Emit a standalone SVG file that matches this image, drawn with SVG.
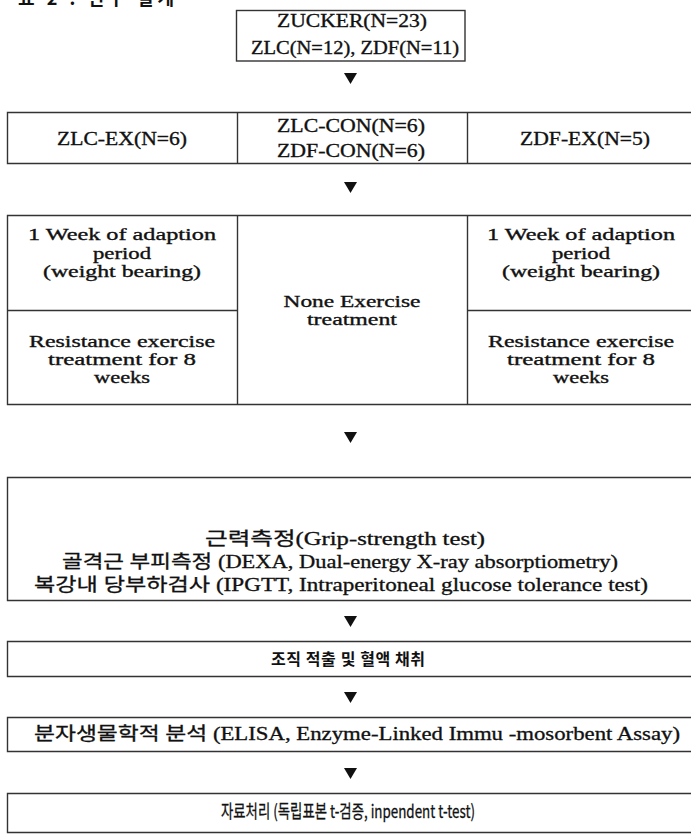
<svg xmlns="http://www.w3.org/2000/svg" width="691" height="840" viewBox="0 0 691 840">
<style>
.bx{fill:#fff;stroke:#333;stroke-width:1.4}
.ln{stroke:#333;stroke-width:1.4;fill:none}
.t{font-family:"Liberation Serif","Noto Sans CJK KR",serif;font-size:19px;fill:#111;stroke:#111;stroke-width:0.35;text-anchor:middle}
.s{font-family:"Liberation Serif",serif;font-size:17px;fill:#111;stroke:#111;stroke-width:0.35;text-anchor:middle}
.k{font-family:"Liberation Serif","Noto Sans CJK KR",serif;font-size:18px;fill:#111;stroke:#111;stroke-width:0.3;text-anchor:middle}
.kb{font-family:"Noto Sans CJK KR",sans-serif;font-size:16px;font-weight:bold;fill:#111;text-anchor:middle}
.ks{font-family:"Noto Sans CJK KR","Liberation Sans",sans-serif;font-size:18px;fill:#111;stroke:#111;stroke-width:0.3;text-anchor:middle}
.arr{fill:#111}
</style>
<text x="18" y="5" font-family="Noto Sans CJK KR,sans-serif" font-size="18" font-weight="bold" fill="#111" textLength="156" lengthAdjust="spacing">표 2 . 연구 설계</text>
<g id="connectors">
<polygon class="arr" points="344,73 357,73 350.5,84"/>
<polygon class="arr" points="344,182 357,182 350.5,193"/>
<polygon class="arr" points="344,432 357,432 350.5,443"/>
<polygon class="arr" points="344,616 357,616 350.5,627"/>
<polygon class="arr" points="344,692 357,692 350.5,703"/>
<polygon class="arr" points="344,768 357,768 350.5,779"/>
</g>
<g id="zucker">
<rect class="bx" x="236.5" y="10.5" width="228.5" height="50.5"/>
<text class="t" x="352" y="27" textLength="150" lengthAdjust="spacingAndGlyphs">ZUCKER(N=23)</text>
<text class="t" x="355" y="54" textLength="208" lengthAdjust="spacingAndGlyphs">ZLC(N=12), ZDF(N=11)</text>
</g>
<g id="groups">
<path class="ln" d="M693,112.5 H7.5 V163.5 H693"/>
<line class="ln" x1="237.5" y1="112.5" x2="237.5" y2="163.5"/>
<line class="ln" x1="467.5" y1="112.5" x2="467.5" y2="163.5"/>
<text class="t" x="122" y="145" textLength="130" lengthAdjust="spacingAndGlyphs">ZLC-EX(N=6)</text>
<text class="t" x="351" y="132" textLength="148" lengthAdjust="spacingAndGlyphs">ZLC-CON(N=6)</text>
<text class="t" x="351" y="157" textLength="148" lengthAdjust="spacingAndGlyphs">ZDF-CON(N=6)</text>
<text class="t" x="585" y="145" textLength="130" lengthAdjust="spacingAndGlyphs">ZDF-EX(N=5)</text>
</g>
<g id="treatment">
<path class="ln" d="M693,215.5 H7.5 V404.5 H693"/>
<line class="ln" x1="237.5" y1="215.5" x2="237.5" y2="404.5"/>
<line class="ln" x1="467.5" y1="215.5" x2="467.5" y2="404.5"/>
<line class="ln" x1="7.5" y1="310.5" x2="237.5" y2="310.5"/>
<line class="ln" x1="467.5" y1="310.5" x2="693" y2="310.5"/>
<text class="s" x="122" y="240" textLength="188" lengthAdjust="spacingAndGlyphs">1 Week of adaption</text>
<text class="s" x="122" y="259" textLength="58" lengthAdjust="spacingAndGlyphs">period</text>
<text class="s" x="122" y="277" textLength="158" lengthAdjust="spacingAndGlyphs">(weight bearing)</text>
<text class="s" x="122" y="347" textLength="186" lengthAdjust="spacingAndGlyphs">Resistance exercise</text>
<text class="s" x="122" y="365" textLength="148" lengthAdjust="spacingAndGlyphs">treatment for 8</text>
<text class="s" x="122" y="383" textLength="56" lengthAdjust="spacingAndGlyphs">weeks</text>
<text class="s" x="352" y="307" textLength="137" lengthAdjust="spacingAndGlyphs">None Exercise</text>
<text class="s" x="352" y="325" textLength="90" lengthAdjust="spacingAndGlyphs">treatment</text>
<text class="s" x="581" y="240" textLength="188" lengthAdjust="spacingAndGlyphs">1 Week of adaption</text>
<text class="s" x="581" y="259" textLength="58" lengthAdjust="spacingAndGlyphs">period</text>
<text class="s" x="581" y="277" textLength="158" lengthAdjust="spacingAndGlyphs">(weight bearing)</text>
<text class="s" x="581" y="347" textLength="186" lengthAdjust="spacingAndGlyphs">Resistance exercise</text>
<text class="s" x="581" y="365" textLength="148" lengthAdjust="spacingAndGlyphs">treatment for 8</text>
<text class="s" x="581" y="383" textLength="56" lengthAdjust="spacingAndGlyphs">weeks</text>
</g>
<g id="measure">
<path class="ln" d="M693,477.5 H7.5 V600.5 H693"/>
<text class="k" x="345" y="545" textLength="280" lengthAdjust="spacingAndGlyphs">근력측정(Grip-strength test)</text>
<text class="k" x="340" y="568" textLength="556" lengthAdjust="spacingAndGlyphs">골격근 부피측정 (DEXA, Dual-energy X-ray absorptiometry)</text>
<text class="k" x="341" y="591" textLength="614" lengthAdjust="spacingAndGlyphs">복강내 당부하검사 (IPGTT, Intraperitoneal glucose tolerance test)</text>
</g>
<g id="tissue">
<path class="ln" d="M693,641.5 H7.5 V676.5 H693"/>
<text class="kb" x="348" y="665" textLength="154" lengthAdjust="spacing">조직 적출 및 혈액 채취</text>
</g>
<g id="elisa">
<path class="ln" d="M693,717.5 H7.5 V751.5 H693"/>
<text class="k" x="357" y="740" textLength="646" lengthAdjust="spacingAndGlyphs">분자생물학적 분석 (ELISA, Enzyme-Linked Immu -mosorbent Assay)</text>
</g>
<g id="stats">
<path class="ln" d="M693,793.5 H7.5 V832.5 H693"/>
<text class="ks" x="348" y="818" textLength="254" lengthAdjust="spacingAndGlyphs">자료처리 (독립표본 t-검증, inpendent t-test)</text>
</g>
</svg>
